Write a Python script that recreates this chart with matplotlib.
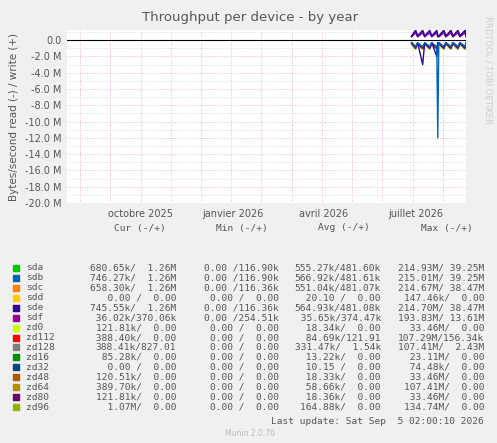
import matplotlib
matplotlib.use("Agg")
import matplotlib.pyplot as plt
from matplotlib.patches import Rectangle

# ---- data ----
names = ["sda","sdb","sdc","sdd","sde","sdf","zd0","zd112","zd128","zd16","zd32","zd48","zd64","zd80","zd96"]
colors = ["#00cc00","#0066b3","#ff8000","#ffcc00","#330099","#990099","#ccff00","#ff0000",
          "#808080","#008f00","#00487d","#b35a00","#b38f00","#6b006b","#8fb300"]
cur = ["680.65k/  1.26M","746.27k/  1.26M","658.30k/  1.26M","  0.00 /  0.00","745.55k/  1.26M",
       " 36.02k/370.06k","121.81k/  0.00"," 388.40k/  0.00","388.41k/827.01"," 85.28k/  0.00",
       "  0.00 /  0.00","120.51k/  0.00","389.70k/  0.00","121.81k/  0.00","  1.07M/  0.00"]
mins = ["0.00 /116.90k","0.00 /116.90k","0.00 /116.36k","0.00 /  0.00","0.00 /116.36k","0.00 /254.51k",
        "0.00 /  0.00","0.00 /  0.00","0.00 /  0.00","0.00 /  0.00","0.00 /  0.00","0.00 /  0.00",
        "0.00 /  0.00","0.00 /  0.00","0.00 /  0.00"]
avgs = ["555.27k/481.60k","566.92k/481.61k","551.04k/481.07k"," 20.10 /  0.00","564.93k/481.08k",
        " 35.65k/374.47k"," 18.34k/  0.00"," 84.69k/121.91","331.47k/  1.54k"," 13.22k/  0.00",
        " 10.15 /  0.00"," 18.33k/  0.00"," 58.66k/  0.00"," 18.36k/  0.00","164.88k/  0.00"]
maxs = ["214.93M/ 39.25M","215.01M/ 39.25M","214.67M/ 38.47M","147.46k/  0.00","214.70M/ 38.47M",
        "193.83M/ 13.61M"," 33.46M/  0.00","107.29M/156.34k","107.41M/  2.43M"," 23.11M/  0.00",
        " 74.48k/  0.00"," 33.46M/  0.00","107.41M/  0.00"," 33.46M/  0.00","134.74M/  0.00"]

# days since 2025-10-01
days = [269, 273, 275, 280, 282, 287, 289, 294, 295, 296, 301, 303, 308, 310, 315, 317, 322, 323]
write_sde = [0.5e6, 1.2e6, 0.5e6, 1.2e6, 0.5e6, 1.2e6, 0.5e6, 1.2e6, 0.5e6, 0.5e6, 1.2e6, 0.5e6, 1.2e6, 0.5e6, 1.2e6, 0.5e6, 1.2e6, 0.5e6]
write_sdf = [0.4e6, 0.9e6, 0.4e6, 0.9e6, 0.4e6, 0.9e6, 0.4e6, 0.9e6, 0.4e6, 0.4e6, 0.9e6, 0.4e6, 0.9e6, 0.4e6, 0.9e6, 0.4e6, 0.9e6, 0.4e6]
read_sdb = [-0.3e6, -0.8e6, -0.3e6, -0.8e6, -0.3e6, -0.8e6, -0.3e6, -0.8e6, -12e6, -0.3e6, -0.8e6, -0.3e6, -0.8e6, -0.3e6, -0.8e6, -0.3e6, -0.8e6, -0.3e6]
read_sde = [-0.3e6, -0.8e6, -0.3e6, -3.0e6, -0.3e6, -0.8e6, -0.3e6, -2.0e6, -0.3e6, -0.3e6, -0.8e6, -0.3e6, -0.8e6, -0.3e6, -0.8e6, -0.3e6, -0.8e6, -0.3e6]
read_zd80 = [-0.4e6, -1.0e6, -0.4e6, -1.0e6, -0.4e6, -1.0e6, -0.4e6, -1.0e6, -0.4e6, -0.4e6, -1.0e6, -0.4e6, -1.0e6, -0.4e6, -1.0e6, -0.4e6, -1.0e6, -0.4e6]
read_zd96 = [-0.5e6, -1.1e6, -0.5e6, -1.1e6, -0.5e6, -1.1e6, -0.5e6, -1.1e6, -0.5e6, -0.5e6, -1.1e6, -0.5e6, -1.1e6, -0.5e6, -1.1e6, -0.5e6, -1.1e6, -0.5e6]
month_ticks = [0, 92, 182, 273]
month_labels = ["octobre 2025", "janvier 2026", "avril 2026", "juillet 2026"]
yticks = [0, -2e6, -4e6, -6e6, -8e6, -10e6, -12e6, -14e6, -16e6, -18e6, -20e6]
ylabels = ["0.0", "-2.0 M", "-4.0 M", "-6.0 M", "-8.0 M", "-10.0 M", "-12.0 M", "-14.0 M", "-16.0 M", "-18.0 M", "-20.0 M"]

W, H = 497, 443
fig = plt.figure(figsize=(W/100, H/100), dpi=100, facecolor="#f0f0f0")
ax = fig.add_axes([67/W, 1-203/H, (466-67)/W, (203-30)/H], facecolor="white")
ax.set_xlim(-73, 323)
ax.set_ylim(-20e6, 1.25e6)

for m in range(-60, 330, 30):
    ax.axvline(m, color="#e8a0a0", lw=0.6, ls=(0, (1, 2)), zorder=0)
for y in range(-20, 2):
    ax.axhline(y*1e6, color="#e8a0a0" if y % 2 == 0 else "#cccccc", lw=0.6, ls=(0, (1, 2)), zorder=0)

ax.axhline(0, color="black", lw=0.8, zorder=1)
ax.plot(days, read_zd96, color=colors[14], lw=1.2)
ax.plot(days, read_zd80, color=colors[13], lw=1.0)
ax.plot(days, read_sde, color=colors[4], lw=1.0)
ax.plot(days, read_sdb, color=colors[1], lw=1.0)
ax.plot(days, write_sdf, color=colors[5], lw=1.0)
ax.plot(days, write_sde, color=colors[4], lw=1.2)

ax.set_xticks(month_ticks)
ax.set_xticklabels(month_labels, fontsize=7, color="#555555")
ax.set_yticks(yticks)
ax.set_yticklabels(ylabels, fontsize=7, color="#555555")
ax.tick_params(length=0, pad=4)
for s in ax.spines.values():
    s.set_visible(False)
ax.set_ylabel("Bytes/second read (-) / write (+)", fontsize=7.5, color="#555555", labelpad=4)

fig.text(250/W, 1-18/H, "Throughput per device - by year", ha="center", va="center", fontsize=9.5, color="#555555")
fig.text(488/W, 1-70/H, "RRDTOOL / TOBI OETIKER", rotation=270, ha="center", va="center", fontsize=6, color="#cccccc")

mono = "DejaVu Sans Mono"
fs = 6.8
hy = 228
for txt, xc in [("Cur (-/+)", 140), ("Min (-/+)", 242), ("Avg (-/+)", 344), ("Max (-/+)", 447)]:
    fig.text(xc/W, 1-hy/H, txt, ha="center", va="center", family=mono, fontsize=fs, color="#555555")
for i, n in enumerate(names):
    y = 268 + i*9.93
    fig.patches.append(Rectangle((13/W, 1-(y+3)/H), 6/W, 6/H, transform=fig.transFigure, color=colors[i]))
    fig.text(26/W, 1-y/H, n, ha="left", va="center", family=mono, fontsize=fs, color="#555555")
    for col, xr in [(cur, 176), (mins, 279), (avgs, 381), (maxs, 484)]:
        fig.text(xr/W, 1-y/H, col[i], ha="right", va="center", family=mono, fontsize=fs, color="#555555")
fig.text(484/W, 1-421/H, "Last update: Sat Sep  5 02:00:10 2026", ha="right", va="center", family=mono, fontsize=fs, color="#555555")
fig.text(250/W, 1-433/H, "Munin 2.0.76", ha="center", va="center", fontsize=5.5, color="#bbbbbb")

fig.savefig("out.png", dpi=100, facecolor=fig.get_facecolor())
